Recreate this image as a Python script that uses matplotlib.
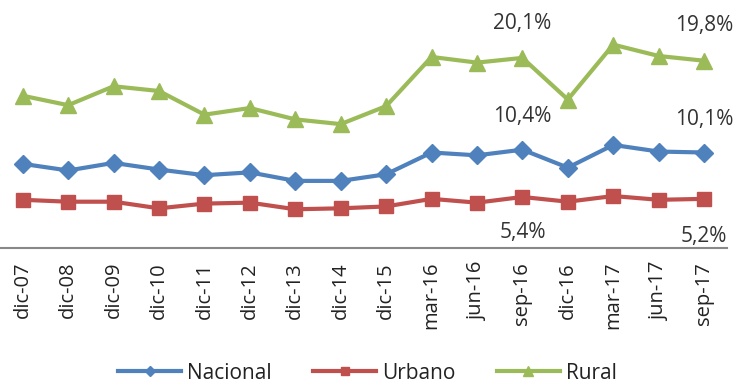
import matplotlib.pyplot as plt

# Datos
periodos = ["dic-07", "dic-08", "dic-09", "dic-10", "dic-11", "dic-12", "dic-13", "dic-14",
            "dic-15", "mar-16", "jun-16", "sep-16", "dic-16", "mar-17", "jun-17", "sep-17"]
nacional = [8.9, 8.2, 9.0, 8.3, 7.7, 8.0, 7.1, 7.1, 7.8, 10.1, 9.8, 10.4, 8.5, 10.9, 10.2, 10.1]
urbano = [5.1, 4.9, 4.9, 4.2, 4.7, 4.8, 4.1, 4.2, 4.4, 5.2, 4.8, 5.4, 4.9, 5.5, 5.1, 5.2]
rural = [16.1, 15.1, 17.1, 16.6, 14.1, 14.8, 13.6, 13.1, 15.0, 20.2, 19.6, 20.1, 15.7, 21.5, 20.3, 19.8]

# Etiquetas de datos (índice, valor mostrado, altura)
etiquetas_rural = [(11, "20,1%", 23.7), (15, "19,8%", 23.5)]
etiquetas_nacional = [(11, "10,4%", 13.9), (15, "10,1%", 13.6)]
etiquetas_urbano = [(11, "5,4%", 1.6), (15, "5,2%", 1.2)]

plt.rcParams['font.family'] = ['Open Sans', 'DejaVu Sans']

fig = plt.figure(figsize=(7.47, 3.84), dpi=100)
ax = fig.add_axes([0.0, 0.354, 0.973, 0.616])

x = list(range(len(periodos)))
ax.plot(x, nacional, color='#4F81BD', lw=3, marker='D', ms=9, label='Nacional')
ax.plot(x, urbano, color='#C0504D', lw=3, marker='s', ms=10, label='Urbano')
ax.plot(x, rural, color='#9BBB59', lw=3, marker='^', ms=11, label='Rural')

for grupo in (etiquetas_rural, etiquetas_nacional, etiquetas_urbano):
    for i, txt, yy in grupo:
        ax.text(i, yy, txt, ha='center', va='center', fontsize=15, color='#333333')

ax.set_xlim(-0.5, len(periodos) - 0.5)
ax.set_ylim(0, 25)
ax.set_xticks(x)
ax.set_xticklabels(periodos, rotation=90, fontsize=14.5, color='#222222')
ax.set_yticks([])
for lado in ('left', 'right', 'top'):
    ax.spines[lado].set_visible(False)
ax.spines['bottom'].set_color('#888888')
ax.spines['bottom'].set_linewidth(1.5)
ax.tick_params(axis='x', length=0, pad=10)

leg = fig.legend(loc='center', ncol=3, frameon=False, fontsize=15,
                 bbox_to_anchor=(0.492, 0.028), handlelength=3.0, handletextpad=0.3,
                 columnspacing=2.0, markerscale=0.6)
for t in leg.get_texts():
    t.set_color('#222222')

fig.savefig('out.png', dpi=100)
